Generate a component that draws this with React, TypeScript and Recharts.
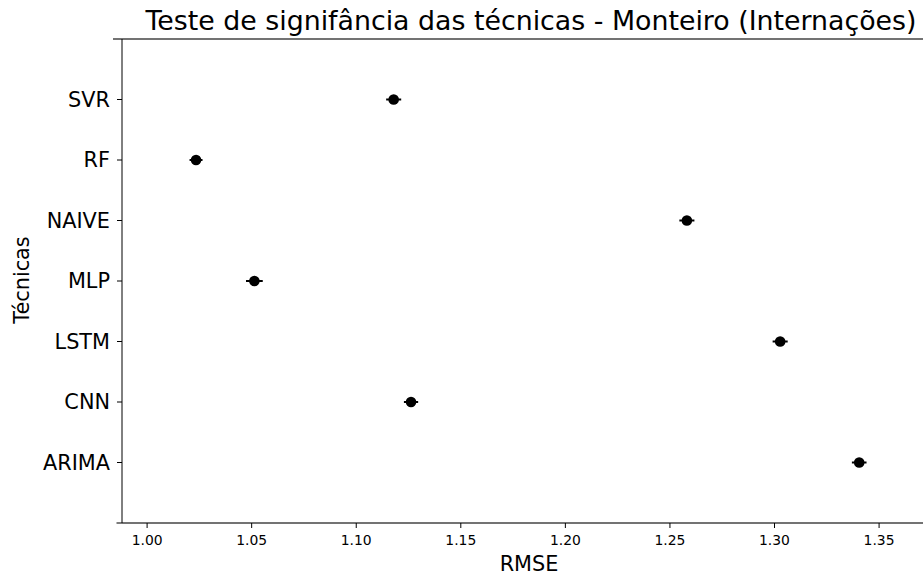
import React from 'react';
import { ScatterChart, Scatter, XAxis, YAxis, ErrorBar, Customized } from 'recharts';

// techniques from bottom (1) to top (7)
const tecnicas = ['ARIMA', 'CNN', 'LSTM', 'MLP', 'NAIVE', 'RF', 'SVR'];
const rmse = [1.3405, 1.1262, 1.3027, 1.0513, 1.2581, 1.0234, 1.1179];
const erro = [0.0035, 0.0034, 0.0036, 0.004, 0.0036, 0.0031, 0.0036];
const xTicks = [1.0, 1.05, 1.1, 1.15, 1.2, 1.25, 1.3, 1.35];
const yTicks = [1, 2, 3, 4, 5, 6, 7];

const FONT = '"DejaVu Sans", sans-serif';

const data = tecnicas.map((nome, i) => ({ nome, x: rmse[i], y: i + 1, err: erro[i] }));

const Dot = (props: any) => {
  const { cx, cy } = props;
  return <circle cx={cx} cy={cy} r={5.3} fill="#000" />;
};

const Decor = () => (
  <g>
    <text x={531} y={30} textAnchor="middle" fontFamily={FONT} fontSize={26.8} fill="#000">
      Teste de signifância das técnicas - Monteiro (Internações)
    </text>
    <text x={529} y={571} textAnchor="middle" fontFamily={FONT} fontSize={20.8} fill="#000">
      RMSE
    </text>
    <text
      x={29}
      y={280}
      textAnchor="middle"
      fontFamily={FONT}
      fontSize={20.8}
      fill="#000"
      transform="rotate(-90 29 280)"
    >
      Técnicas
    </text>
    <line x1={113} y1={39} x2={923} y2={39} stroke="#444" strokeWidth={1.4} />
    <line x1={116.5} y1={523} x2={122} y2={523} stroke="#444" strokeWidth={1.4} />
  </g>
);

export default function App() {
  return (
    <div style={{ position: 'absolute', left: 0, top: 0 }}>
      <ScatterChart width={923} height={575} margin={{ top: 39, right: 0, bottom: 0, left: 0 }}>
        <XAxis
          type="number"
          dataKey="x"
          domain={[0.988, 1.371]}
          ticks={xTicks}
          allowDataOverflow
          height={52}
          tickFormatter={(v: number) => v.toFixed(2)}
          tick={{ fontFamily: FONT, fontSize: 13.9, fill: '#000' }}
          tickSize={5}
          tickMargin={7}
          axisLine={{ stroke: '#444', strokeWidth: 1.4 }}
          tickLine={{ stroke: '#000' }}
        />
        <YAxis
          type="number"
          dataKey="y"
          domain={[0, 8]}
          ticks={yTicks}
          width={122}
          tickFormatter={(v: number) => tecnicas[v - 1] ?? ''}
          tick={{ fontFamily: FONT, fontSize: 20.8, fill: '#000' }}
          tickSize={5}
          tickMargin={7}
          axisLine={{ stroke: '#000', strokeWidth: 1 }}
          tickLine={{ stroke: '#000' }}
        />
        <Scatter data={data} shape={<Dot />} isAnimationActive={false}>
          <ErrorBar dataKey="err" direction="x" width={0} stroke="#000" strokeWidth={2} isAnimationActive={false} />
        </Scatter>
        <Customized component={Decor} />
      </ScatterChart>
    </div>
  );
}
